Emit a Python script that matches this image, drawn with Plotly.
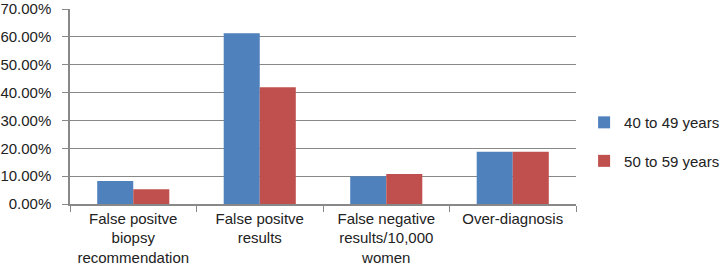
import plotly.graph_objects as go

categories = ["False positve<br>biopsy<br>recommendation", "False positve<br>results",
              "False negative<br>results/10,000<br>women", "Over-diagnosis"]
series_names = ["40 to 49 years", "50 to 59 years"]
values_40_49 = [0.083, 0.613, 0.100, 0.188]
values_50_59 = [0.053, 0.419, 0.108, 0.188]
y_ticks = [0, 0.1, 0.2, 0.3, 0.4, 0.5, 0.6, 0.7]

colors = ["#4F81BD", "#C0504D"]
fig = go.Figure()
for name, vals, col, grp in zip(series_names, [values_40_49, values_50_59], colors, ["a", "b"]):
    fig.add_trace(go.Bar(x=categories, y=vals, name=name, marker_color=col,
                         marker_line_width=0, legendgroup=grp))

font = dict(family="Liberation Sans, Arial, sans-serif", size=15, color="#222")
fig.update_layout(
    width=724, height=276,
    margin=dict(l=70, r=148, t=9, b=72, autoexpand=False),
    paper_bgcolor="white", plot_bgcolor="white",
    font=font,
    barmode="group", bargap=0.43, bargroupgap=0,
    showlegend=True,
    legend=dict(x=1.016, y=0.32, yanchor="middle", xanchor="left",
                tracegroupgap=16, font=dict(size=15), itemwidth=30),
    xaxis=dict(showline=True, linecolor="#888", linewidth=1.5, ticks="outside",
               tickson="boundaries", ticklen=6, tickcolor="#888", tickfont=font,
               showgrid=False, automargin=False),
    yaxis=dict(range=[0, 0.7], tickvals=y_ticks, tickformat=".2%", showline=True,
               linecolor="#888", linewidth=1.5, showgrid=True, gridcolor="#888",
               gridwidth=1, ticks="outside", ticklen=6, tickcolor="#888",
               tickfont=font, zeroline=False, automargin=False,
               ticklabelstandoff=8, ticklabeloverflow="allow"),
)
fig.write_html("out.html", config={"displayModeBar": False},
               post_script="document.body.style.margin='0';")
